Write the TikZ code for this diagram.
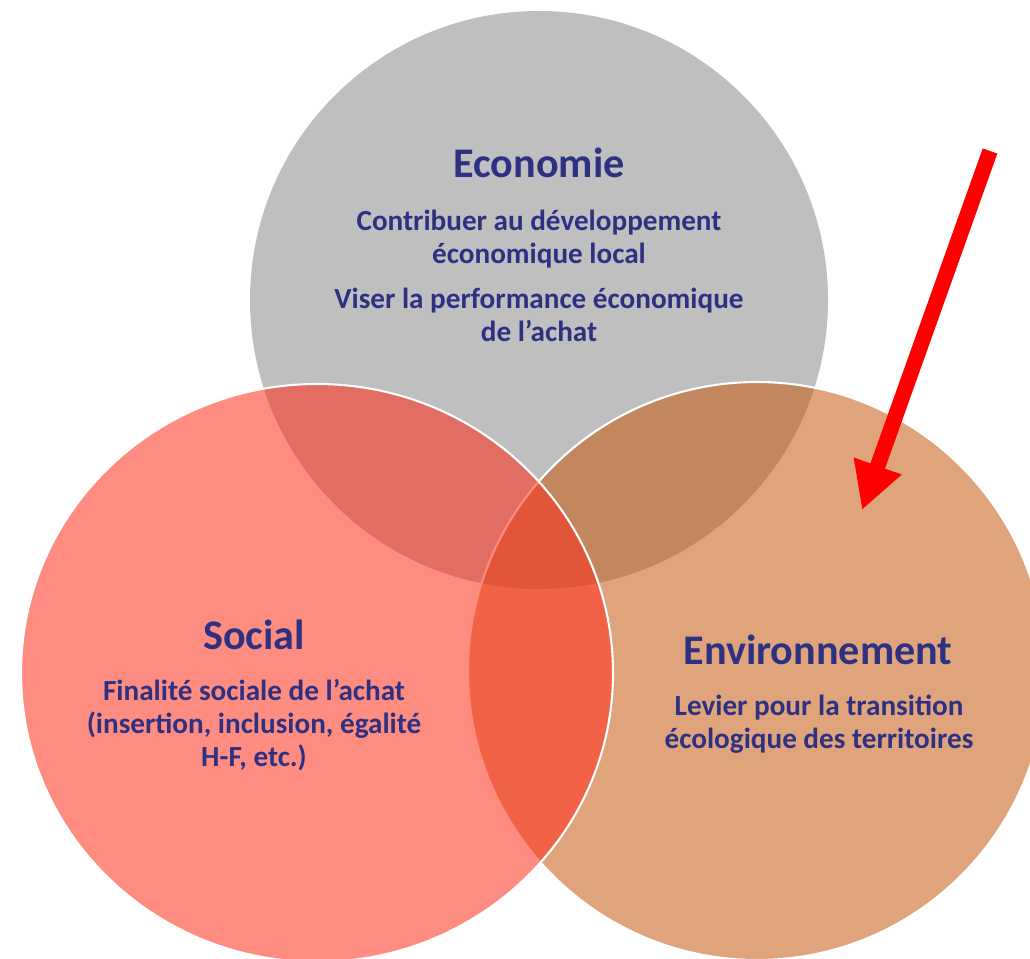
\documentclass[tikz,border=0pt]{standalone}
\usepackage{fontspec}
\setmainfont{Carlito}
\usetikzlibrary{calc}
\usetikzlibrary{math}
\usetikzlibrary{arrows.meta}
\definecolor{ecoGris}{RGB}{191,191,191}
\definecolor{envOrange}{RGB}{197,90,17}
\definecolor{socRouge}{RGB}{255,45,25}
\definecolor{texteBleu}{RGB}{46,49,130}
\definecolor{flecheRouge}{RGB}{255,0,0}

\begin{document}
\begin{tikzpicture}[x=0.02cm,y=-0.02cm,
    titre/.style={font=\bfseries\fontsize{24}{28}\selectfont,text=texteBleu},
    corps/.style={font=\bfseries\fontsize{16.6}{18.7}\selectfont,text=texteBleu,align=center},
    bord/.style={white,line width=1.2pt}]
            \tikzmath{\rayon = 289; \rayonx = 296;}
                \useasboundingbox (0,0) rectangle (1030,959);
                \clip (0,0) rectangle (1030,959);
                \coordinate (E) at (539,300);
                \coordinate (S) at (317,673);
                \coordinate (V) at (757,671);
                \fill[ecoGris] (E) circle (\rayon);
                \draw[bord,fill=envOrange,fill opacity=0.55] (V) circle (\rayon);
                \draw[bord,fill=socRouge,fill opacity=0.55] (S) ellipse [x radius=\rayonx, y radius=\rayon];
                \node[titre] (titreEco) at (539,163) {Economie};
                \node[corps] (texteEco) at (539,276) {Contribuer au développement\\économique local\\[6.8pt]Viser la performance économique\\de l’achat};
                \node[titre] (titreSoc) at (254,635) {Social};
                \node[corps] (texteSoc) at (254,725) {Finalité sociale de l’achat\\(insertion, inclusion, égalité\\H-F, etc.)};
                \node[titre] (titreEnv) at (818,650) {Environnement};
                \node[corps] (texteEnv) at (819,724) {Levier pour la transition\\écologique des territoires};
                \coordinate (debutFleche) at (990,151);
                \coordinate (finFleche) at (862,510);
                \draw[flecheRouge,line width=8.8pt,-{Triangle[length=26.6pt,width=27pt]}] (debutFleche) -- (finFleche);
            \end{tikzpicture}
\end{document}
